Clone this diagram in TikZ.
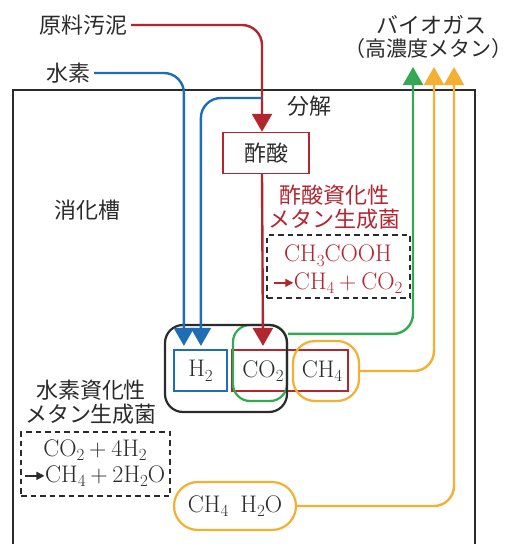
\documentclass[tikz,border=0pt]{standalone}
\usepackage{fontspec}
\newfontfamily\jp{Noto Sans CJK JP}
\usetikzlibrary{arrows.meta}
\definecolor{cred}{HTML}{B3252F}
\definecolor{cblue}{HTML}{1F6DB5}
\definecolor{cgreen}{HTML}{34A853}
\definecolor{corange}{HTML}{F3B032}
\definecolor{ctext}{HTML}{2B2B2B}
\newcommand\myarr[1]{\tikz[baseline=-0.6ex]\draw[#1,line width=1.4pt,-{Triangle[width=8pt,length=8pt]}] (0pt,0pt)--(19pt,0pt);}
\newcommand\sbs[1]{\raisebox{-0.45ex}{\fontsize{17}{17}\selectfont #1}}
\newcommand\pls{\hspace{0.2em}+\hspace{0.2em}}
\begin{document}
\begin{tikzpicture}[x=1pt,y=-1pt,
  every node/.style={text=ctext},
  jpt/.style={font=\jp\fontsize{22}{24}\selectfont},
  lat/.style={font=\fontsize{24}{27}\selectfont},
  conn/.style={line width=2.4pt, rounded corners=20pt, -{Triangle[width=20pt,length=18pt]}},
  boxed/.style={draw, inner sep=0pt, line width=2.2pt},
  dbox/.style={draw=ctext, dash pattern=on 5.5pt off 4pt, line width=1.3pt, inner sep=0pt}]
\useasboundingbox (0,0) rectangle (514,544);
\fill[white] (0,0) rectangle (514,544);

% tank
\draw[line width=2.2pt, ctext] (13,548) -- (13,90) -- (475,90) -- (475,548);

% labels
\node[jpt, anchor=east] (sludge) at (131,25) {原料汚泥};
\node[jpt, anchor=east] (hyd) at (94,73) {水素};
\node[jpt] (decomp) at (309,106) {分解};
\node[jpt] (tank) at (87,210) {消化槽};
\node[jpt, inner sep=1pt] (biogas) at (431,25) {バイオガス};
\node[font=\jp\fontsize{21}{24}\selectfont, inner sep=1pt] (biogas2) at (428,49) {（高濃度メタン）};

% acetic acid
\node[boxed, draw=cred, line width=1.4pt, minimum width=86pt, minimum height=41pt, jpt] (acid) at (266,153) {酢酸};
\node[jpt, text=cred, align=center] (acidlbl) at (334,207) {酢酸資化性\\メタン生成菌};
\node[dbox, minimum width=143pt, minimum height=63pt] (acidbox) at (338.5,266.5) {};
\node[lat, text=cred] (acideq1) at (338,256) {CH\sbs{3}COOH};
\node[lat, text=cred] (acideq2) at (338,283) {\myarr{cred}CH\sbs{4}\pls CO\sbs{2}};

% hydrogen methanogen
\node[jpt, align=center] (hydlbl) at (91,402) {水素資化性\\メタン生成菌};
\node[dbox, minimum width=149pt, minimum height=64pt] (hydbox) at (95.5,464) {};
\node[lat] (hydeq1) at (95,450) {CO\sbs{2}\pls 4H\sbs{2}};
\node[lat] (hydeq2) at (95,476) {\myarr{ctext}CH\sbs{4}\pls 2H\sbs{2}O};

% substrate boxes
\node[boxed, draw=cblue, minimum width=53pt, minimum height=41pt, lat] (h2) at (200.5,370.5) {H\sbs{2}};
\node[boxed, draw=cred, minimum width=116pt, minimum height=41pt] (redbox) at (290,370.5) {};
\node[lat] (co2) at (263,371) {CO\sbs{2}};
\node[lat] (ch4) at (322,371) {CH\sbs{4}};
\node[boxed, draw=cgreen, rounded corners=17pt, minimum width=54pt, minimum height=76pt] (grn) at (260,363) {};
\node[boxed, draw=corange, rounded corners=22pt, minimum width=66pt, minimum height=60pt] (och4) at (326,371) {};
\node[boxed, draw=ctext, rounded corners=18pt, minimum width=122pt, minimum height=87pt] (blk) at (226,368.5) {};
\node[boxed, draw=corange, rounded corners=24pt, minimum width=122pt, minimum height=48pt, lat] (prod) at (235,506) {CH\sbs{4}\hspace{0.5em}H\sbs{2}O};

% tips
\coordinate (split) at (262,98);
\coordinate (gtip) at (413,67);
\coordinate (otip1) at (434,67);
\coordinate (otip2) at (454,67);

% connectors
\draw[conn, cred] (sludge.east) -| ([xshift=-4pt]acid.north);
\draw[conn, cred] ([xshift=-4pt]acid.south) -- ([yshift=3pt]co2.north |- redbox.north);
\draw[conn, cblue] (hyd.east) -| ([xshift=11pt,yshift=3pt]h2.north west);
\draw[conn, cblue] (split) -| ([xshift=28pt,yshift=3pt]h2.north west);
\draw[conn, cgreen] ([yshift=-10pt]grn.north east) -| (gtip);
\draw[conn, corange] (och4.east) -| (otip1);
\draw[conn, corange] (prod.east) -| (otip2);
\end{tikzpicture}
\end{document}
